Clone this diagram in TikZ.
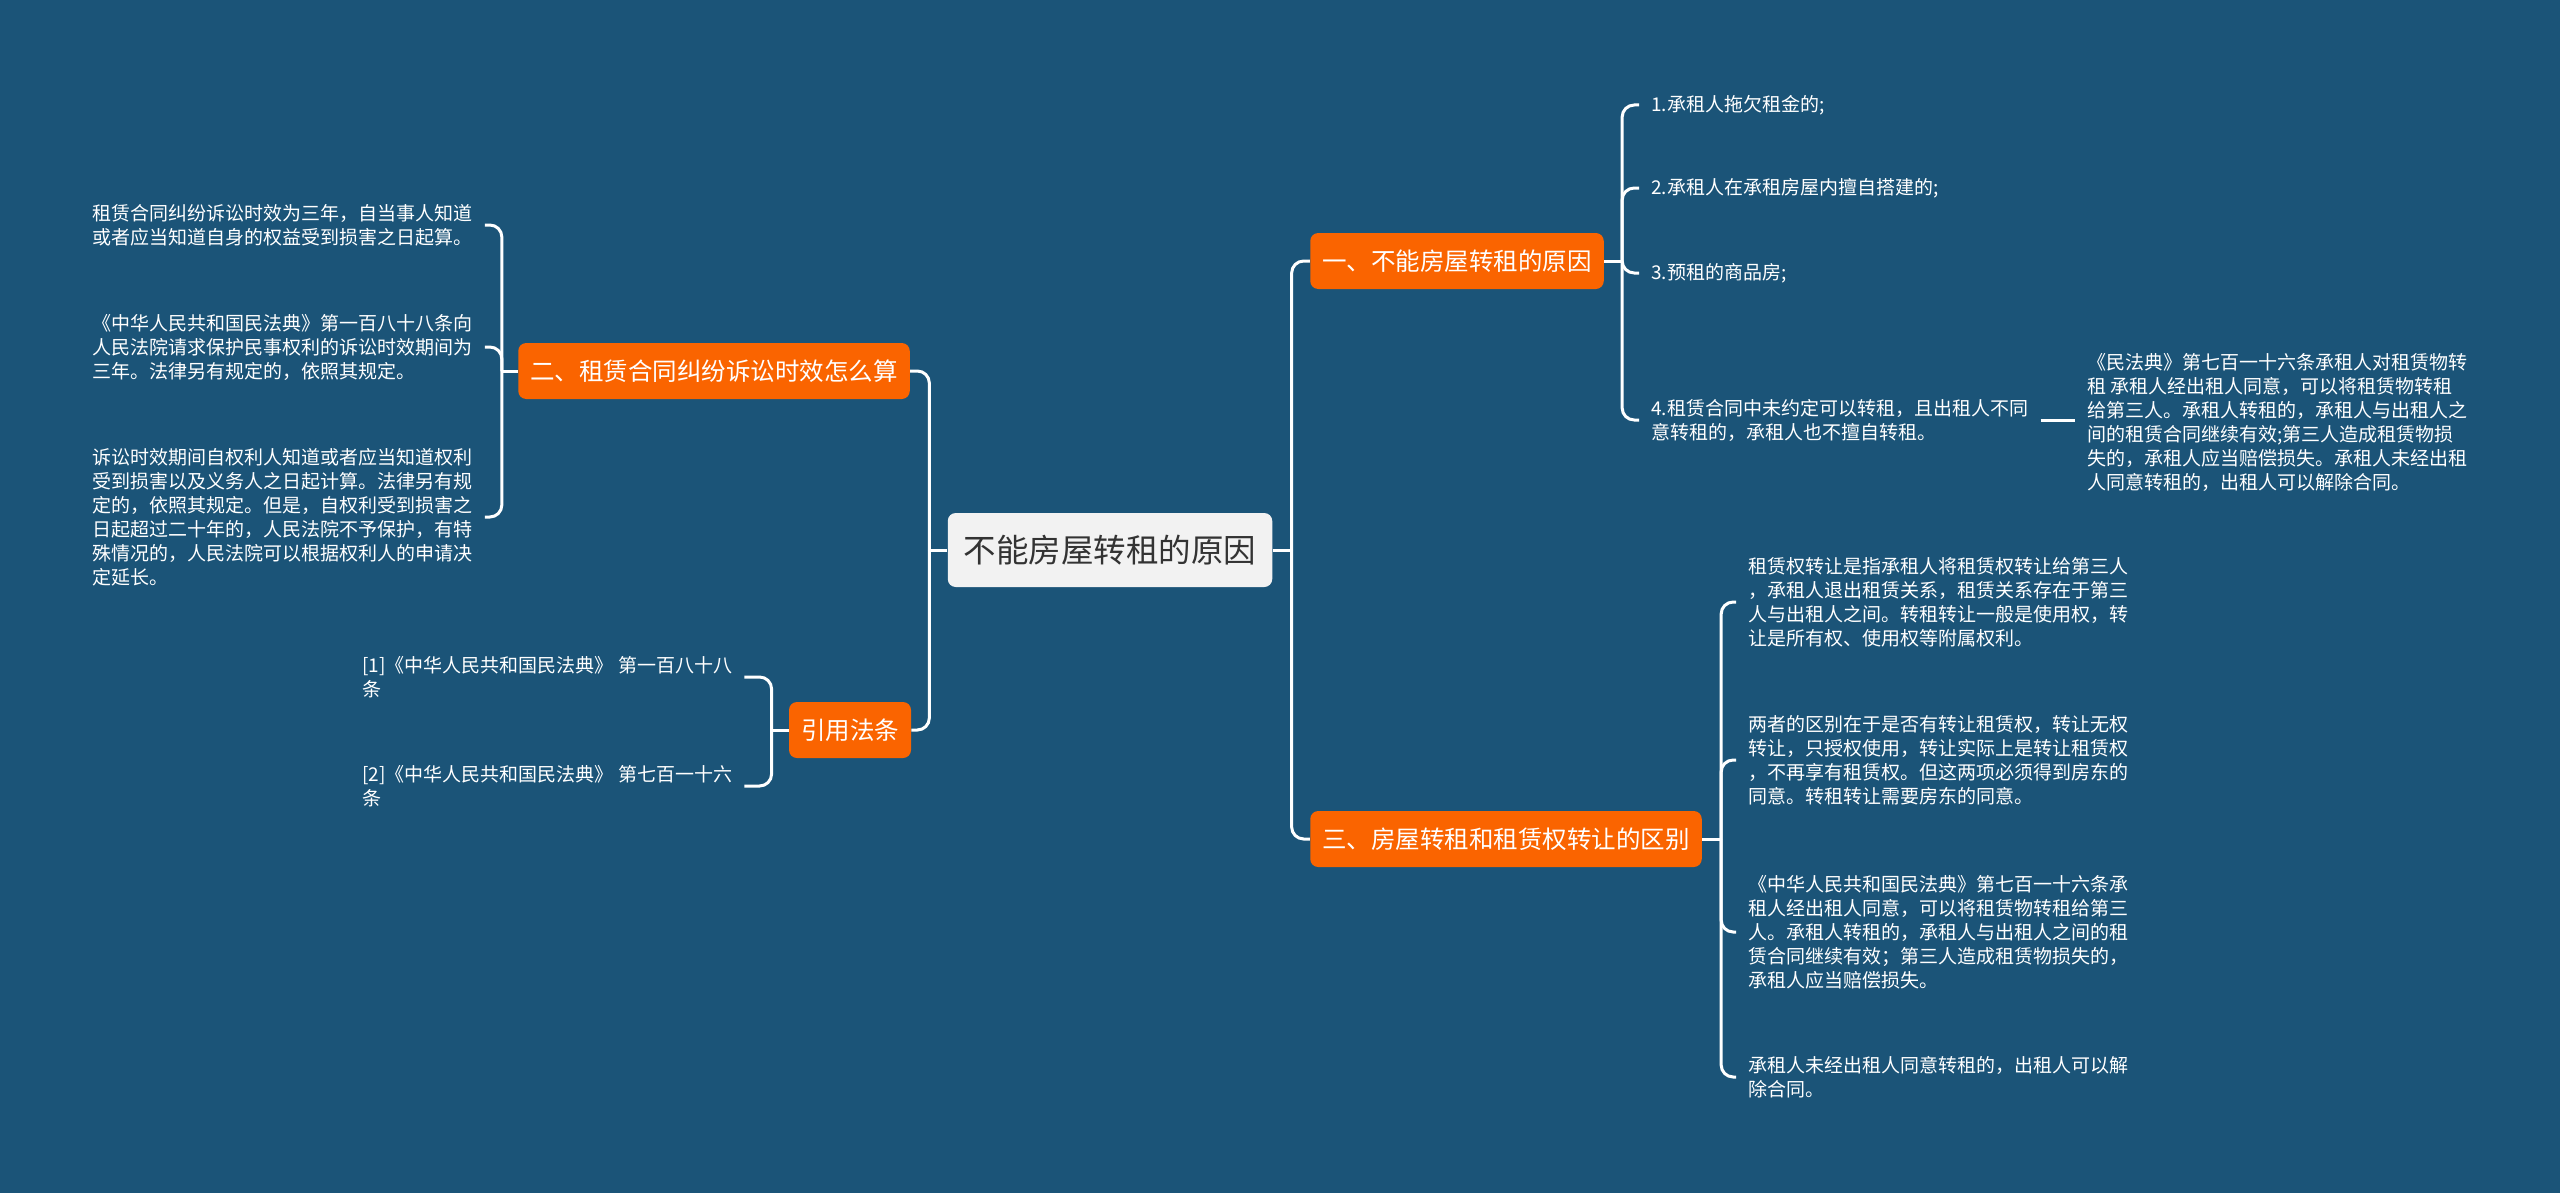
\documentclass[tikz,border=0pt]{standalone}
\usepackage{fontspec}
\setmainfont{Noto Sans CJK SC}
\definecolor{bgblue}{HTML}{1B5478}
\definecolor{branchorange}{HTML}{FA6400}
\definecolor{rootgray}{HTML}{F2F2F2}
\definecolor{roottext}{HTML}{333333}

\begin{document}
\begin{tikzpicture}[x=0.5pt,y=-0.5pt,
  rootbox/.style={fill=rootgray, text=roottext, rounded corners=4pt, inner xsep=8pt, minimum height=37pt, font=\fontsize{16.25}{19}\selectfont},
  branchbox/.style={fill=branchorange, text=white, rounded corners=4pt, inner xsep=6pt, minimum height=28pt, font=\fontsize{12.25}{15}\selectfont},
  leaftext/.style={text=white, align=left, inner xsep=6pt, inner ysep=1pt, font=\fontsize{9.5}{12}\selectfont},
  link/.style={draw=white, line width=1.5pt, rounded corners=6pt}]
\useasboundingbox (0,0) rectangle (2560,1193);
\fill[bgblue] (0,0) rectangle (2560,1193);

% centre and branches
\node[rootbox] (root) at (1110,550) {不能房屋转租的原因};
\node[branchbox] (why) at (1457,261) {一、不能房屋转租的原因};
\node[branchbox] (term) at (714,371) {二、租赁合同纠纷诉讼时效怎么算};
\node[branchbox] (diff) at (1506,839) {三、房屋转租和租赁权转让的区别};
\node[branchbox] (cite) at (850,730) {引用法条};

% leaves of branch one
\node[leaftext, anchor=west] (why1) at (1639,105) {1.承租人拖欠租金的;};
\node[leaftext, anchor=west] (why2) at (1639,188) {2.承租人在承租房屋内擅自搭建的;};
\node[leaftext, anchor=west] (why3) at (1639,273) {3.预租的商品房;};
\node[leaftext, anchor=west] (why4) at (1639,420) {4.租赁合同中未约定可以转租，且出租人不同\\意转租的，承租人也不擅自转租。};
\node[leaftext, anchor=west] (law) at (2075,422) {《民法典》第七百一十六条承租人对租赁物转\\租 承租人经出租人同意，可以将租赁物转租\\给第三人。承租人转租的，承租人与出租人之\\间的租赁合同继续有效;第三人造成租赁物损\\失的，承租人应当赔偿损失。承租人未经出租\\人同意转租的，出租人可以解除合同。};

% leaves of branch two
\node[leaftext, anchor=west] (term1) at (80,225) {租赁合同纠纷诉讼时效为三年，自当事人知道\\或者应当知道自身的权益受到损害之日起算。};
\node[leaftext, anchor=west] (term2) at (80,347) {《中华人民共和国民法典》第一百八十八条向\\人民法院请求保护民事权利的诉讼时效期间为\\三年。法律另有规定的，依照其规定。};
\node[leaftext, anchor=west] (term3) at (80,517) {诉讼时效期间自权利人知道或者应当知道权利\\受到损害以及义务人之日起计算。法律另有规\\定的，依照其规定。但是，自权利受到损害之\\日起超过二十年的，人民法院不予保护，有特\\殊情况的，人民法院可以根据权利人的申请决\\定延长。};

% leaves of branch three
\node[leaftext, anchor=west] (diff1) at (1736,602) {租赁权转让是指承租人将租赁权转让给第三人\\，承租人退出租赁关系，租赁关系存在于第三\\人与出租人之间。转租转让一般是使用权，转\\让是所有权、使用权等附属权利。};
\node[leaftext, anchor=west] (diff2) at (1736,760) {两者的区别在于是否有转让租赁权，转让无权\\转让，只授权使用，转让实际上是转让租赁权\\，不再享有租赁权。但这两项必须得到房东的\\同意。转租转让需要房东的同意。};
\node[leaftext, anchor=west] (diff3) at (1736,932) {《中华人民共和国民法典》第七百一十六条承\\租人经出租人同意，可以将租赁物转租给第三\\人。承租人转租的，承租人与出租人之间的租\\赁合同继续有效；第三人造成租赁物损失的，\\承租人应当赔偿损失。};
\node[leaftext, anchor=west] (diff4) at (1736,1077) {承租人未经出租人同意转租的，出租人可以解\\除合同。};

% cited articles
\node[leaftext, anchor=west] (cite1) at (350,677) {[1]《中华人民共和国民法典》 第一百八十八\\条};
\node[leaftext, anchor=west] (cite2) at (350,786) {[2]《中华人民共和国民法典》 第七百一十六\\条};

% junctions
\coordinate (jl) at ([xshift=-9pt]root.west);
\coordinate (jr) at ([xshift=9.5pt]root.east);
\coordinate (jwhy) at ([xshift=9pt]why.east);
\coordinate (jterm) at ([xshift=-8pt]term.west);
\coordinate (jdiff) at ([xshift=9.5pt]diff.east);
\coordinate (jcite) at ([xshift=-8.5pt]cite.west);

\draw[link] (root.west) -- (jl);
\draw[link] (jl) |- (term.east);
\draw[link] (jl) |- (cite.east);
\draw[link] (root.east) -- (jr);
\draw[link] (jr) |- (why.west);
\draw[link] (jr) |- (diff.west);

\draw[link] (why.east) -- (jwhy);
\foreach \n in {why1,why2,why3,why4}
  \draw[link] (jwhy) |- (\n.west);
\draw[link] (why4.east) -- (why4.east -| law.west);

\draw[link] (term.west) -- (jterm);
\foreach \n in {term1,term2,term3}
  \draw[link] (jterm) |- (\n.east);

\draw[link] (diff.east) -- (jdiff);
\foreach \n in {diff1,diff2,diff3,diff4}
  \draw[link] (jdiff) |- (\n.west);

\draw[link] (cite.west) -- (jcite);
\foreach \n in {cite1,cite2}
  \draw[link] (jcite) |- (\n.east);
\end{tikzpicture}
\end{document}
